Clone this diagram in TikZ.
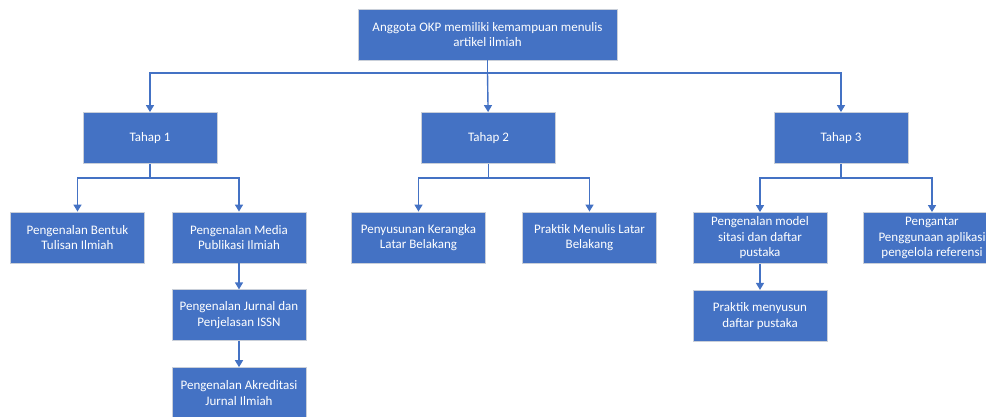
\documentclass[tikz,border=0pt]{standalone}
\usepackage{fontspec}
\setmainfont{Carlito}
\usetikzlibrary{arrows.meta,positioning}
\definecolor{boxblue}{HTML}{4472C4}
\definecolor{boxline}{HTML}{C9CFD9}
\tikzstyle{block} = [rectangle, draw=boxline, line width=0.8pt, fill=boxblue,
    text=white, align=center, minimum width=134pt, minimum height=51pt,
    inner sep=2pt, font=\fontsize{13}{15.5}\selectfont]
\tikzstyle{link} = [draw=boxblue, line width=1.4pt, -{Triangle[length=7pt,width=8pt]}]

\begin{document}
\begin{tikzpicture}[x=1pt,y=-1pt]
  \useasboundingbox (0,0) rectangle (986,417);
  \clip (0,0) rectangle (986,417);

  % goal
  \node[block,minimum width=259pt] (goal) at (487.5,34.5) {Anggota OKP memiliki kemampuan menulis\\artikel ilmiah};

  % stages
  \node[block] (t1) at (150,138) {Tahap 1};
  \node[block] (t2) at (488.5,138) {Tahap 2};
  \node[block] (t3) at (841,138) {Tahap 3};

  % tahap 1
  \node[block] (bentuk) at (77.5,237.5) {Pengenalan Bentuk\\Tulisan Ilmiah};
  \node[block] (media) at (239,237.5) {Pengenalan Media\\Publikasi Ilmiah};
  \node[block] (jurnal) [below=26pt of media] {Pengenalan Jurnal dan\\Penjelasan ISSN};
  \node[block] (akred) [below=26pt of jurnal] {Pengenalan Akreditasi\\Jurnal Ilmiah};

  % tahap 2
  \node[block] (kerangka) at (418.5,237.5) {Penyusunan Kerangka\\Latar Belakang};
  \node[block] (latar) at (589.5,237.5) {Praktik Menulis Latar\\Belakang};

  % tahap 3
  \node[block] (sitasi) at (760,238) {Pengenalan model\\sitasi dan daftar\\pustaka};
  \node[block,minimum width=138pt] (aplikasi) at (932,238) {Pengantar\\Penggunaan aplikasi\\pengelola referensi};
  \node[block] (pustaka) [below=26pt of sitasi] {Praktik menyusun\\daftar pustaka};

  \coordinate (b0) at (487.5,73);
  \coordinate (b1) at (150,178);
  \coordinate (b2) at (488.5,178);
  \coordinate (b3) at (841,178);

  \path[link] (goal) |- (b0) -| (t1);
  \path[link] (b0) -- (t2);
  \path[link] (b0) -| (t3);

  \path[link] (t1) |- (b1) -| (bentuk);
  \path[link] (b1) -| (media);
  \path[link] (media) -- (jurnal);
  \path[link] (jurnal) -- (akred);

  \path[link] (t2) |- (b2) -| (kerangka);
  \path[link] (b2) -| (latar);

  \path[link] (t3) |- (b3) -| (sitasi);
  \path[link] (b3) -| (aplikasi);
  \path[link] (sitasi) -- (pustaka);
\end{tikzpicture}
\end{document}
